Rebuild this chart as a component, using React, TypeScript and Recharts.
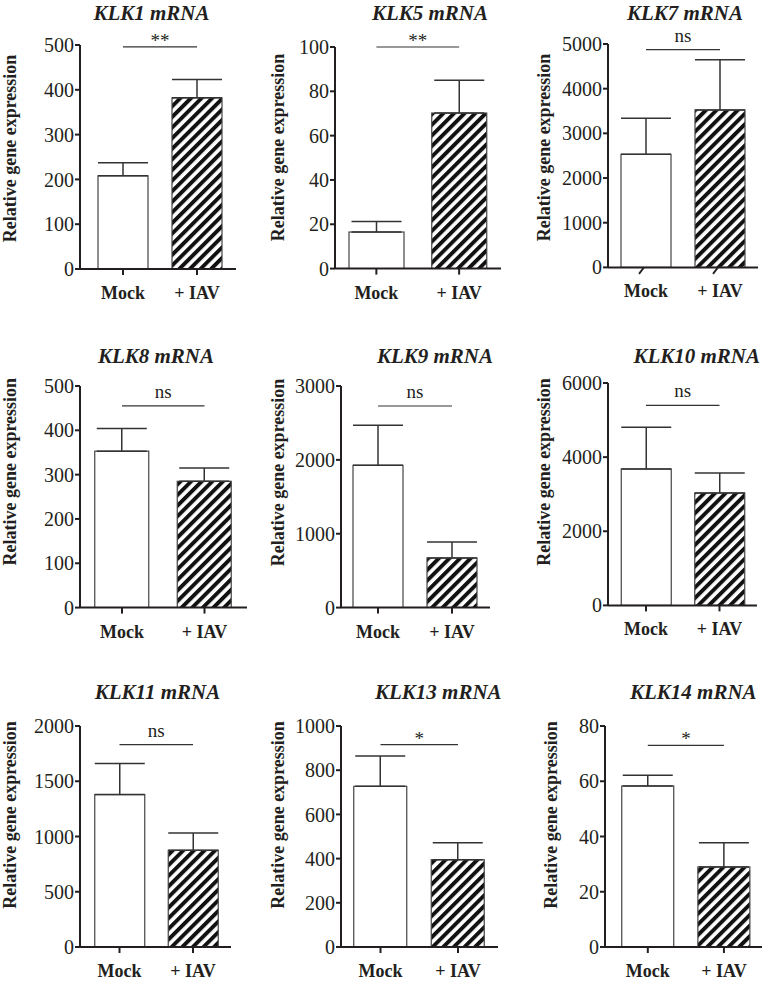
import React from 'react';
import { BarChart, Bar, XAxis, YAxis, ErrorBar, ReferenceLine } from 'recharts';

// ---------- data ----------
const genes = ['KLK1', 'KLK5', 'KLK7', 'KLK8', 'KLK9', 'KLK10', 'KLK11', 'KLK13', 'KLK14'];
const groups = ['Mock', '+ IAV'];
const mockMean = [208, 16.5, 2530, 353, 1926, 3680, 1379, 727, 58.3];
const mockErr = [29, 4.7, 810, 51, 542, 1124, 281, 137, 3.9];
const iavMean = [382, 70.2, 3523, 285, 672, 3033, 875, 395, 29];
const iavErr = [41, 14.8, 1126, 30, 216, 540, 157, 77, 8.7];
const yMax = [500, 100, 5000, 500, 3000, 6000, 2000, 1000, 80];
const yTicks = [
  [0, 100, 200, 300, 400, 500],
  [0, 20, 40, 60, 80, 100],
  [0, 1000, 2000, 3000, 4000, 5000],
  [0, 100, 200, 300, 400, 500],
  [0, 1000, 2000, 3000],
  [0, 2000, 4000, 6000],
  [0, 500, 1000, 1500, 2000],
  [0, 200, 400, 600, 800, 1000],
  [0, 20, 40, 60, 80],
];
const significance = ['**', '**', 'ns', 'ns', 'ns', 'ns', 'ns', '*', '*'];
const sigLevel = [496, 100, 4872, 455, 2729, 5397, 1832, 916, 73];
const yLabel = 'Relative gene expression';

// ---------- layout (page pixel positions) ----------
const LAYOUT = [
  { axisX: 80, xEnd: 236, top: 45, zero: 269, c1: 123, c2: 197, bw: 50, tX: 151.5, tY: 19.5, lX: 16, lY: 148.5 },
  { axisX: 335, xEnd: 501, top: 46.7, zero: 268.3, c1: 376, c2: 459, bw: 55, tX: 430, tY: 19.5, lX: 284, lY: 147.5 },
  { axisX: 608, xEnd: 758, top: 44.3, zero: 267.7, c1: 646, c2: 720, bw: 50, tX: 685, tY: 19.5, lX: 550, lY: 147.5, slash: true },
  { axisX: 80, xEnd: 247, top: 385.7, zero: 607.3, c1: 122, c2: 204.5, bw: 54, tX: 156, tY: 363.3, lX: 16, lY: 471.7 },
  { axisX: 341, xEnd: 490, top: 385.7, zero: 607.3, c1: 378, c2: 452, bw: 50, tX: 435, tY: 363.3, lX: 284, lY: 472.5 },
  { axisX: 608, xEnd: 757, top: 383.3, zero: 605.7, c1: 646, c2: 719.5, bw: 50, tX: 696.7, tY: 363.3, lX: 550, lY: 472 },
  { axisX: 80, xEnd: 231, top: 725.7, zero: 946.7, c1: 119.5, c2: 193, bw: 50, tX: 157.5, tY: 699.3, lX: 16, lY: 815 },
  { axisX: 341, xEnd: 498, top: 725.7, zero: 946.7, c1: 380.5, c2: 458, bw: 53, tX: 438.3, tY: 699.3, lX: 284, lY: 815 },
  { axisX: 605, xEnd: 762, top: 725.7, zero: 946.7, c1: 648.5, c2: 726, bw: 52, tX: 693.3, tY: 699.3, lX: 557, lY: 815 },
];

const SERIF = '"Liberation Serif", "Times New Roman", Times, serif';
const INK = '#231f20';
const YW = 80;
const MT = 45;
const XH = 40;
const RM = 4;

function makeShape(panel: number) {
  return (props: any) => {
    const { x, y, width, height, payload } = props;
    const hatched = payload && payload.group === groups[1];
    const pid = `hatch-${panel}`;
    if (!hatched) {
      return <rect x={x} y={y} width={width} height={height} fill="#fff" stroke="#444" strokeWidth={1.2} />;
    }
    return (
      <g>
        <defs>
          <pattern id={pid} patternUnits="userSpaceOnUse" width={7.5} height={7.5} patternTransform="rotate(45)">
            <rect x={0} y={0} width={7.5} height={7.5} fill="#fff" />
            <rect x={0} y={0} width={3.9} height={7.5} fill="#111" />
          </pattern>
        </defs>
        <rect x={x} y={y} width={width} height={height} fill={`url(#${pid})`} stroke="#444" strokeWidth={1.2} />
      </g>
    );
  };
}

function makeXTick(slash: boolean) {
  return (p: any) => (
    <g>
      {slash && (
        <line x1={p.x - 2} y1={p.y - 6} x2={p.x - 7} y2={p.y + 0.5} stroke={INK} strokeWidth={1.8} />
      )}
      <text x={p.x} y={p.y + 24} textAnchor="middle" fontFamily={SERIF} fontWeight="bold" fontSize={18} fill={INK}>
        {p.payload.value}
      </text>
    </g>
  );
}

function makeSigLabel(text: string) {
  return (p: any) => {
    const vb = p.viewBox || {};
    const cx = (vb.x || 0) + (vb.width || 0) / 2;
    const isStar = text.indexOf('*') >= 0;
    const yy = (vb.y || 0) + (isStar ? 0 : -8);
    return (
      <text x={cx} y={yy} textAnchor="middle" fontFamily={SERIF} fontSize={19} fill={INK}>
        {text}
      </text>
    );
  };
}

function Panel({ i }: { i: number }) {
  const L = LAYOUT[i];
  const plotW = L.xEnd - L.axisX;
  const plotH = L.zero - L.top;
  const width = YW + plotW + RM;
  const height = MT + plotH + XH;
  const b = L.c2 - L.c1;
  const padL = Math.max(0, L.c1 - L.axisX - b / 2);
  const padR = Math.max(0, L.xEnd - L.c2 - b / 2);
  const data = [
    { group: groups[0], value: mockMean[i], err: [0, mockErr[i]] },
    { group: groups[1], value: iavMean[i], err: [0, iavErr[i]] },
  ];
  return (
    <div style={{ position: 'absolute', left: L.axisX - YW, top: L.top - MT, width, height }}>
      <BarChart width={width} height={height} data={data} margin={{ top: MT, right: RM, bottom: 0, left: 0 }}>
        <XAxis
          dataKey="group"
          type="category"
          height={XH}
          padding={{ left: padL, right: padR }}
          interval={0}
          axisLine={{ stroke: INK, strokeWidth: 2 }}
          tickLine={L.slash ? { stroke: 'none' } : { stroke: INK, strokeWidth: 2 }}
          tickSize={6}
          tickMargin={0}
          tick={makeXTick(!!L.slash)}
        />
        <YAxis
          type="number"
          domain={[0, yMax[i]]}
          ticks={yTicks[i]}
          interval={0}
          width={YW}
          allowDataOverflow
          axisLine={{ stroke: INK, strokeWidth: 2 }}
          tickLine={{ stroke: INK, strokeWidth: 2 }}
          tickSize={5}
          tickMargin={1}
          tick={{ fontFamily: SERIF, fontSize: 20, fill: INK }}
        />
        <Bar dataKey="value" barSize={L.bw} isAnimationActive={false} shape={makeShape(i)}>
          <ErrorBar dataKey="err" width={25} stroke="#333" strokeWidth={1.5} direction="y" />
        </Bar>
        <ReferenceLine
          segment={[{ x: groups[0], y: sigLevel[i] }, { x: groups[1], y: sigLevel[i] }]}
          stroke="#333"
          strokeWidth={1.2}
          ifOverflow="visible"
          label={makeSigLabel(significance[i])}
        />
      </BarChart>
    </div>
  );
}

export default function App() {
  return (
    <div style={{ position: 'absolute', left: 0, top: 0, width: 766, height: 985, background: '#fff' }}>
      {genes.map((g, i) => (
        <Panel key={g} i={i} />
      ))}
      <svg width={766} height={985} style={{ position: 'absolute', left: 0, top: 0, pointerEvents: 'none' }}>
        {genes.map((g, i) => {
          const L = LAYOUT[i];
          return (
            <g key={g}>
              <text x={L.tX} y={L.tY} textAnchor="middle" fontFamily={SERIF} fontWeight="bold" fontStyle="italic" fontSize={21} fill={INK}>
                {g} mRNA
              </text>
              <text
                x={L.lX}
                y={L.lY}
                textAnchor="middle"
                transform={`rotate(-90, ${L.lX}, ${L.lY})`}
                fontFamily={SERIF}
                fontWeight="bold"
                fontSize={18}
                fill={INK}
              >
                {yLabel}
              </text>
            </g>
          );
        })}
      </svg>
    </div>
  );
}
